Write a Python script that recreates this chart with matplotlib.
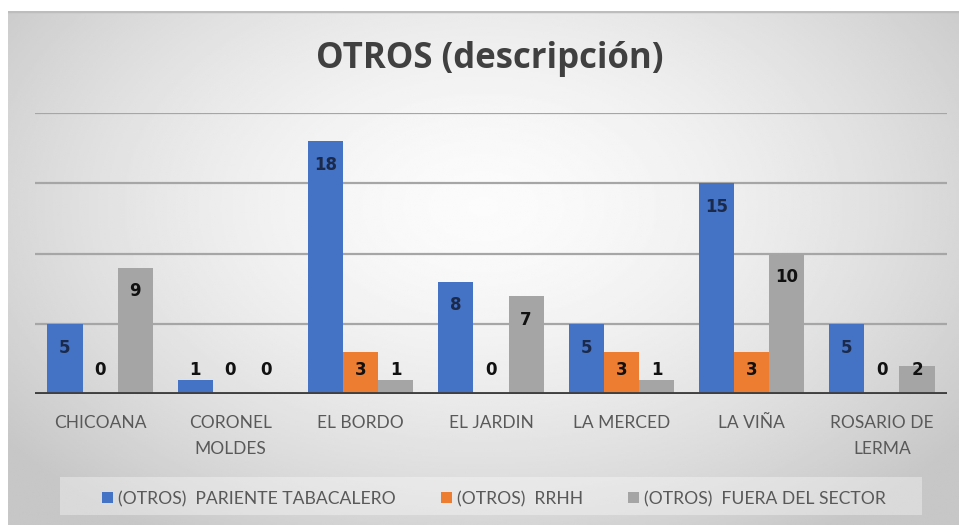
import numpy as np
import matplotlib
matplotlib.use("Agg")
import matplotlib.pyplot as plt
from matplotlib.patches import Patch, Rectangle

categories = ["CHICOANA", "CORONEL\nMOLDES", "EL BORDO", "EL JARDIN", "LA MERCED", "LA VIÑA", "ROSARIO DE\nLERMA"]
pariente = [5, 1, 18, 8, 5, 15, 5]
rrhh = [0, 0, 3, 0, 3, 3, 0]
fuera = [9, 0, 1, 7, 1, 10, 2]
series_names = ["(OTROS)  PARIENTE TABACALERO", "(OTROS)  RRHH", "(OTROS)  FUERA DEL SECTOR"]
colors = ["#4472C4", "#ED7D31", "#A5A5A5"]
title = "OTROS (descripción)"

FONT = ["Lato", "DejaVu Sans"]
plt.rcParams["font.family"] = FONT

W, H = 959, 525
fig = plt.figure(figsize=(W / 100, H / 100), dpi=100, facecolor="white")

# background gradient panel
bg = fig.add_axes([8 / W, 0, (W - 8) / W, (H - 11) / H], zorder=-10)
yy, xx = np.mgrid[0:1:300j, 0:1:500j]
r = np.sqrt(((xx - 0.5) / 0.62) ** 2 + ((yy - 0.38) / 0.75) ** 2)
val = np.clip(0.985 - 0.20 * r ** 1.6, 0.78, 1.0)
bg.imshow(val, cmap="gray", vmin=0, vmax=1, aspect="auto", extent=[0, 1, 0, 1], origin="upper")
bg.axhline(1.0, color="#BDBDBD", lw=2.5)
bg.set_axis_off()

ax = fig.add_axes([35 / W, 1 - 394 / H, (947 - 35) / W, (394 - 113) / H])
ax.set_facecolor("none")
x = np.arange(len(categories))
w = 0.27
all_series = [pariente, rrhh, fuera]
for i, (vals, c) in enumerate(zip(all_series, colors)):
    xs = x + (i - 1) * w
    ax.bar(xs, vals, width=w, color=c, zorder=3)
    for xi, v in zip(xs, vals):
        ypos = max(v - 1.7, 1.7)
        inside = v >= 3
        ax.text(xi, ypos, str(v), ha="center", va="center", fontsize=12, fontweight="bold",
                color="#1B2A4A" if (i == 0 and inside) else "#111111", zorder=4,
                family=["DejaVu Sans"])

ax.set_xlim(-0.5, len(categories) - 0.5)
ax.set_ylim(0, 20)
for g in [5, 10, 15, 20]:
    ax.axhline(g, color="#A6A6A6", lw=1.6, zorder=1)
ax.axhline(0, color="#404040", lw=2.8, zorder=5)
for s in ax.spines.values():
    s.set_visible(False)
ax.set_yticks([])
ax.set_xticks(x)
ax.set_xticklabels(categories, fontsize=12.5, color="#595959", linespacing=1.75)
ax.tick_params(axis="x", length=0, pad=15)

fig.text(490 / W, 1 - 59 / H, title, ha="center", va="center", fontsize=25, fontweight="bold",
         color="#404040", family=["Open Sans", "DejaVu Sans"])

# legend box
fig.patches.append(Rectangle((60 / W, 1 - 515 / H), (922 - 60) / W, 38 / H, transform=fig.transFigure,
                             facecolor="white", alpha=0.35, edgecolor="none", zorder=0))
handles = [Patch(facecolor=c, edgecolor="none") for c in colors]
fig.legend(handles, series_names, loc="center", bbox_to_anchor=(494 / W, 1 - 499 / H), ncol=3,
           frameon=False, fontsize=12.6, labelcolor="#595959", handlelength=0.6, handleheight=0.6,
           handletextpad=0.3, columnspacing=2.6)

fig.savefig("out.png", dpi=100, facecolor="white")
